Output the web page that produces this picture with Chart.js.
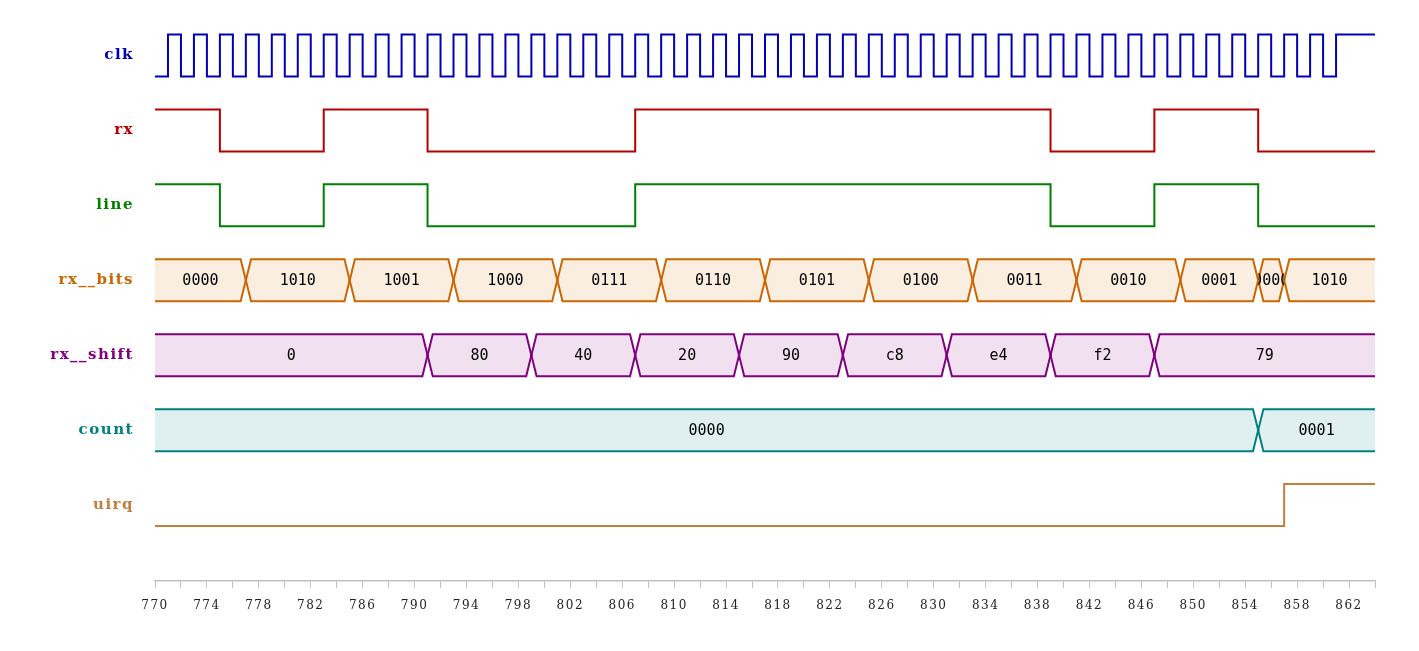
<!DOCTYPE html>
<html>
<head>
<meta charset="utf-8">
<script src="https://cdn.jsdelivr.net/npm/chart.js@4.4.1/dist/chart.umd.min.js"></script>
<style>
  html, body { margin: 0; padding: 0; background: #ffffff; }
  #wrap { width: 1419px; height: 651px; }
</style>
</head>
<body>
<div id="wrap"><canvas id="wave"></canvas></div>
<script>
// Plage de temps
const xMin = 770;
const xMax = 864;
const xTicks = [770, 772, 774, 776, 778, 780, 782, 784, 786, 788, 790, 792, 794, 796, 798, 800,
    802, 804, 806, 808, 810, 812, 814, 816, 818, 820, 822, 824, 826, 828, 830, 832, 834, 836,
    838, 840, 842, 844, 846, 848, 850, 852, 854, 856, 858, 860, 862, 864];

// Noms des signaux (une ligne chacun)
const signalNames = ["clk", "rx", "line", "rx__bits", "rx__shift", "count", "uirq"];
const signalColors = ["#0000b4", "#b40000", "#008000", "#cc6600", "#800080", "#008080", "#c08040"];
const signalFills = [null, null, null, "#faeee0", "#f1e0f0", "#e0f0f0", null];

// clk : un echantillon par unite de temps a partir de 770
const clkStart = 770;
const clkBits = [0, 1, 0, 1, 0, 1, 0, 1, 0, 1, 0, 1, 0, 1, 0, 1, 0, 1, 0, 1,
    0, 1, 0, 1, 0, 1, 0, 1, 0, 1, 0, 1, 0, 1, 0, 1, 0, 1, 0, 1,
    0, 1, 0, 1, 0, 1, 0, 1, 0, 1, 0, 1, 0, 1, 0, 1, 0, 1, 0, 1,
    0, 1, 0, 1, 0, 1, 0, 1, 0, 1, 0, 1, 0, 1, 0, 1, 0, 1, 0, 1,
    0, 1, 0, 1, 0, 1, 0, 1, 0, 1, 0, 1];

// Signaux numeriques : instants de changement et niveaux
const rxTimes = [770, 775, 783, 791, 807, 839, 847, 855];
const rxLevels = [1, 0, 1, 0, 1, 0, 1, 0];
const lineTimes = [770, 775, 783, 791, 807, 839, 847, 855];
const lineLevels = [1, 0, 1, 0, 1, 0, 1, 0];
const uirqTimes = [770, 857];
const uirqLevels = [0, 1];

// Bus : instants de changement et valeurs
const rxBitsTimes = [770, 777, 785, 793, 801, 809, 817, 825, 833, 841, 849, 855, 857];
const rxBitsValues = ["0000", "1010", "1001", "1000", "0111", "0110", "0101", "0100", "0011", "0010", "0001", "0000", "1010"];
const rxShiftTimes = [770, 791, 799, 807, 815, 823, 831, 839, 847];
const rxShiftValues = ["0", "80", "40", "20", "90", "c8", "e4", "f2", "79"];
const countTimes = [770, 855];
const countValues = ["0000", "0001"];

const H = 0.28;   // demi-hauteur d'un signal (en lignes)
const D = 0.4;    // demi-largeur d'une transition de bus

const datasets = [];

function ajouterNumerique(times, levels, row) {
    const pts = times.map((t, k) => ({ x: t, y: levels[k] ? row - H : row + H }));
    pts.push({ x: xMax, y: pts[pts.length - 1].y });
    datasets.push({
        data: pts,
        borderColor: signalColors[row],
        borderWidth: 2,
        stepped: true,
        fill: false,
    });
}

const busList = [];
function ajouterBus(times, values, row) {
    busList.push({ times: times, values: values, row: row });
    times.forEach((t0, k) => {
        const last = k === times.length - 1;
        const t1 = last ? xMax : times[k + 1];
        const haut = [];
        const bas = [];
        if (k > 0) {
            haut.push({ x: t0, y: row });
            bas.push({ x: t0, y: row });
        }
        haut.push({ x: k > 0 ? t0 + D : t0, y: row - H });
        bas.push({ x: k > 0 ? t0 + D : t0, y: row + H });
        haut.push({ x: last ? t1 : t1 - D, y: row - H });
        bas.push({ x: last ? t1 : t1 - D, y: row + H });
        if (!last) {
            haut.push({ x: t1, y: row });
            bas.push({ x: t1, y: row });
        }
        datasets.push({
            data: haut,
            borderColor: signalColors[row],
            backgroundColor: signalFills[row],
            borderWidth: 2,
            fill: "+1",
        });
        datasets.push({
            data: bas,
            borderColor: signalColors[row],
            borderWidth: 2,
            fill: false,
        });
    });
}

const clkPts = clkBits.map((b, i) => ({ x: clkStart + i, y: b ? -H : H }));
clkPts.push({ x: xMax, y: clkPts[clkPts.length - 1].y });
datasets.push({ data: clkPts, borderColor: signalColors[0], borderWidth: 2, stepped: true, fill: false });

ajouterNumerique(rxTimes, rxLevels, 1);
ajouterNumerique(lineTimes, lineLevels, 2);
ajouterBus(rxBitsTimes, rxBitsValues, 3);
ajouterBus(rxShiftTimes, rxShiftValues, 4);
ajouterBus(countTimes, countValues, 5);
ajouterNumerique(uirqTimes, uirqLevels, 6);

// Espacement des lettres pour les libelles des axes
const espacement = {
    id: "espacement",
    beforeDraw(chart) {
        chart.ctx.letterSpacing = "1.5px";
    },
};

// Texte des valeurs dans les bus
const texteBus = {
    id: "texteBus",
    afterDatasetsDraw(chart) {
        const ctx = chart.ctx;
        const xs = chart.scales.x;
        const ys = chart.scales.y;
        ctx.save();
        ctx.letterSpacing = "0px";
        ctx.font = '15px "DejaVu Sans Mono"';
        ctx.fillStyle = "#000000";
        ctx.textAlign = "center";
        ctx.textBaseline = "middle";
        busList.forEach((bus) => {
            bus.times.forEach((t0, k) => {
                const t1 = k === bus.times.length - 1 ? xMax : bus.times[k + 1];
                const a = xs.getPixelForValue(t0);
                const b = xs.getPixelForValue(t1);
                ctx.save();
                ctx.beginPath();
                ctx.rect(a, 0, b - a, chart.height);
                ctx.clip();
                ctx.fillText(bus.values[k], (a + b) / 2, ys.getPixelForValue(bus.row) + 1);
                ctx.restore();
            });
        });
        ctx.restore();
    },
};

const ctx = document.getElementById("wave").getContext("2d");
new Chart(ctx, {
    type: "line",
    data: { datasets: datasets },
    plugins: [espacement, texteBus],
    options: {
        responsive: true,
        maintainAspectRatio: false,
        animation: false,
        events: [],
        layout: { padding: { top: 0, right: 44, left: 0, bottom: 0 } },
        elements: {
            point: { radius: 0 },
            line: { tension: 0, borderCapStyle: "square", borderJoinStyle: "miter" },
        },
        plugins: {
            legend: { display: false },
            tooltip: { enabled: false },
            filler: { drawTime: "beforeDatasetsDraw" },
        },
        scales: {
            x: {
                type: "linear",
                min: xMin,
                max: xMax,
                afterBuildTicks: (s) => { s.ticks = xTicks.map((v) => ({ value: v })); },
                afterFit: (s) => { s.height = 70; },
                grid: { drawOnChartArea: false, drawTicks: true, tickLength: 7, color: "#c0c0c0" },
                border: { color: "#c0c0c0", width: 1.5 },
                ticks: {
                    autoSkip: false,
                    maxRotation: 0,
                    padding: 11,
                    color: "#222222",
                    font: { family: "DejaVu Serif", size: 12 },
                    callback: (v) => ((v - xMin) % 4 === 0 && v < xMax ? String(v) : ""),
                },
            },
            y: {
                type: "linear",
                reverse: true,
                min: -0.34,
                max: 7.013,
                afterBuildTicks: (s) => { s.ticks = signalNames.map((n, i) => ({ value: i })); },
                afterFit: (s) => { s.width = 155; },
                grid: { display: false, drawTicks: false },
                border: { display: false },
                ticks: {
                    padding: 21,
                    font: { family: "DejaVu Serif", size: 15, weight: "bold" },
                    color: (c) => signalColors[c.index],
                    callback: (v) => signalNames[v],
                },
            },
        },
    },
});
</script>
</body>
</html>
